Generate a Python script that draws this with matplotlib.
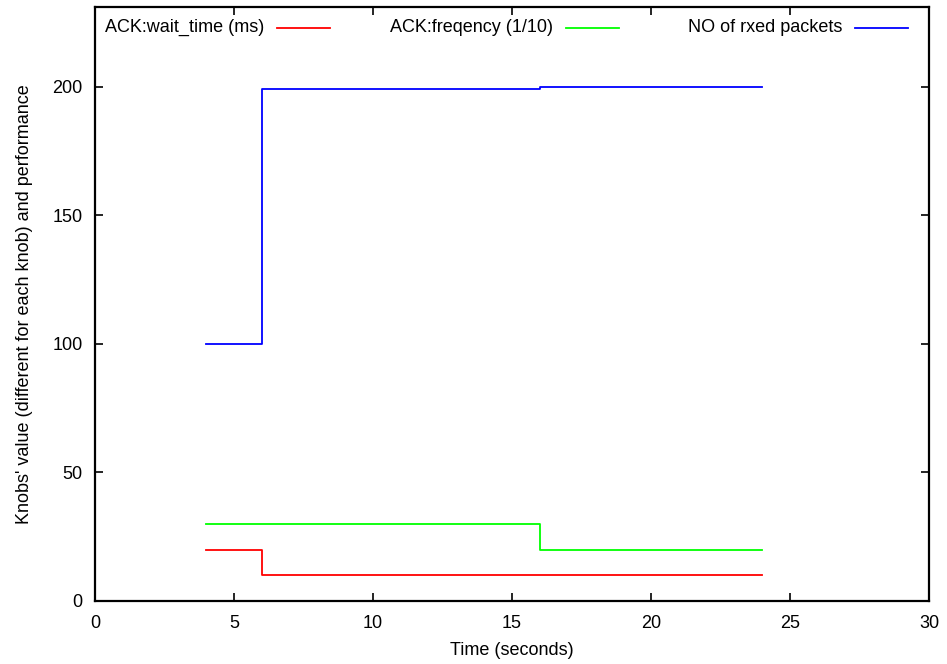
import matplotlib
matplotlib.use("Agg")
import matplotlib.pyplot as plt

plt.rcParams["font.family"] = ["Liberation Sans", "DejaVu Sans"]

# --- datos ---
tiempo = [4, 6, 16, 24]
wait_time = [20, 10, 10, 10]
frecuencia = [30, 30, 20, 20]
paquetes = [100, 199, 200, 200]

series = [
    ("ACK:wait_time (ms)", wait_time, "#ff0000"),
    ("ACK:freqency (1/10)", frecuencia, "#00ff00"),
    ("NO of rxed packets", paquetes, "#0000ff"),
]

fig = plt.figure(figsize=(9.47, 6.64), dpi=100)
ax = fig.add_axes([0.1003, 0.0949, 0.8807, 0.8946])

for nombre, valores, color in series:
    ax.step(tiempo, valores, where="post", color=color, lw=1.3)

ax.set_xlim(0, 30)
ax.set_ylim(0, 231)
ax.set_xticks(range(0, 31, 5))
ax.set_yticks(range(0, 201, 50))
ax.tick_params(direction="in", top=True, right=True, length=6, width=1.2,
               labelsize=13)
ax.tick_params(axis="x", pad=10)
ax.tick_params(axis="y", pad=9)
for s in ax.spines.values():
    s.set_linewidth(1.6)

ax.set_xlabel("Time (seconds)", fontsize=13, labelpad=7)
ax.set_ylabel("Knobs' value (different for each knob) and performance",
              fontsize=13, labelpad=14)

# leyenda estilo gnuplot: texto y luego la muestra de línea
pos_texto = [0.2026, 0.549, 0.8957]
for (nombre, valores, color), xt in zip(series, pos_texto):
    ax.text(xt, 0.965, nombre, transform=ax.transAxes, ha="right",
            va="center", fontsize=13)
    ax.plot([xt + 0.0156, xt + 0.0792], [0.965, 0.965], color=color, lw=1.3,
            transform=ax.transAxes)

fig.savefig("out.png", dpi=100)
